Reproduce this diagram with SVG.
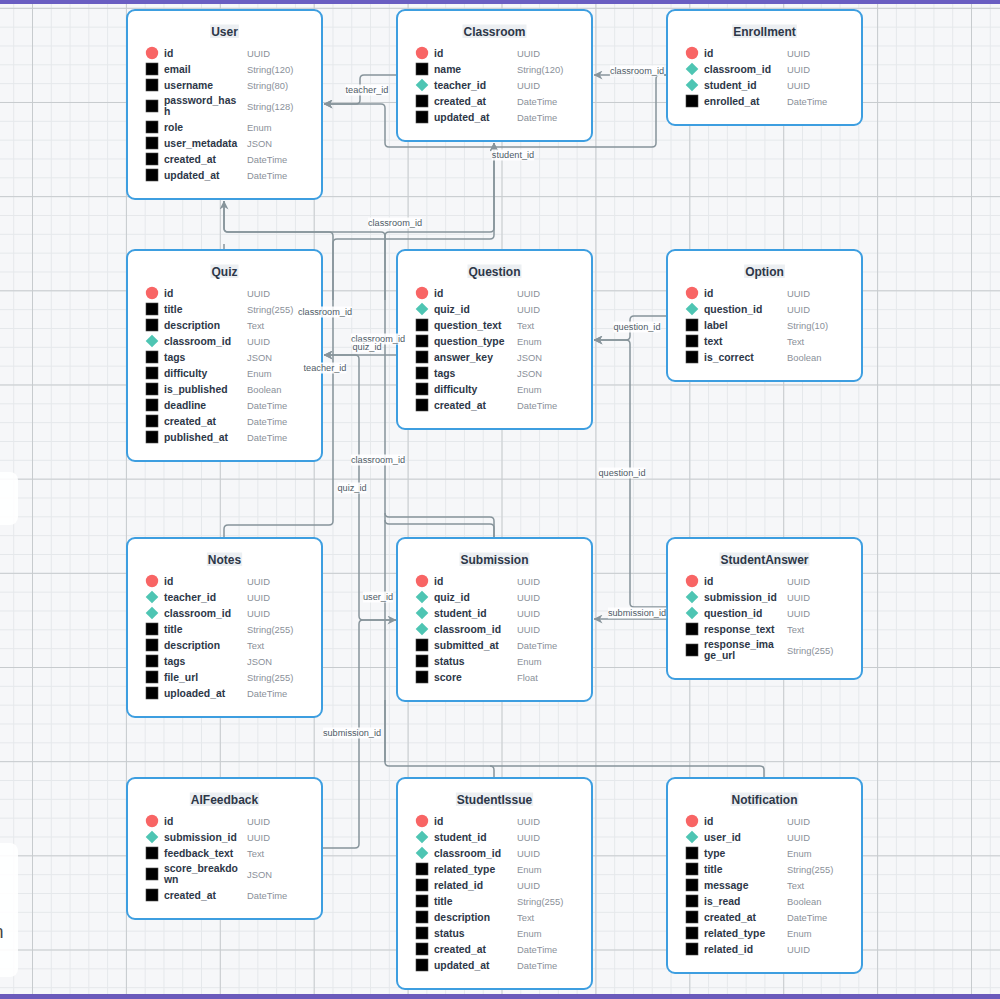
<svg xmlns="http://www.w3.org/2000/svg" xmlns:xlink="http://www.w3.org/1999/xlink" width="1000" height="999" viewBox="0 0 1000 999">
  <style>
    .box{fill:#fff;stroke:#3d9ee0;stroke-width:2}
    .hb{fill:#eceff2}
    .h{font:bold 12px "Liberation Sans",Arial,sans-serif;fill:#2d3748;text-anchor:middle}
    .n{font:bold 10.4px "Liberation Sans",Arial,sans-serif;fill:#2d3748}
    .t{font:9.4px "Liberation Sans",Arial,sans-serif;fill:#8a9099}
    .wire{fill:none;stroke:#87949b;stroke-width:1.5}
    .lb{fill:#fff;fill-opacity:.88}
    .lbl{font:9.2px "Liberation Sans",Arial,sans-serif;fill:#4f5b66;text-anchor:middle}
  </style>
  <defs>
    <pattern id="minor" patternUnits="userSpaceOnUse" x="32" y="7.8" width="18.78" height="18.834">
      <rect width="18.78" height="1" fill="#e5e8eb"/>
      <rect width="1" height="18.834" fill="#e5e8eb"/>
    </pattern>
    <pattern id="major" patternUnits="userSpaceOnUse" x="32" y="7.8" width="93.9" height="94.17">
      <rect width="93.9" height="1" fill="#c7cbce"/>
      <rect width="1" height="94.17" fill="#c7cbce"/>
    </pattern>
    <marker id="arr" viewBox="0 0 10 10" refX="9.5" refY="5" markerWidth="9" markerHeight="9" markerUnits="userSpaceOnUse" orient="auto">
      <path d="M0,0 L10,5 L0,10 L3,5 Z" fill="#87949b"/>
    </marker>
    <circle id="pk" r="6.2" fill="#f86565"/>
    <path id="fk" d="M0-6.3 6.3 0 0 6.3-6.3 0Z" fill="#4ec5b3"/>
    <rect id="col" x="-6" y="-6" width="12" height="12" fill="#000" stroke="#4a4a4a" stroke-width=".6"/>
  </defs>

  <!-- canvas -->
  <rect width="1000" height="999" fill="#f6f7f9"/>
  <rect width="1000" height="999" fill="url(#minor)"/>
  <rect width="1000" height="999" fill="url(#major)"/>
  <rect x="-12" y="472" width="30" height="53" rx="8" fill="#fff" fill-opacity=".9"/>
  <rect x="-12" y="843" width="30" height="134" rx="8" fill="#fff" fill-opacity=".9"/>
  <text x="-6.5" y="938" style="font:18px 'Liberation Sans',Arial,sans-serif;fill:#444">n</text>
  <rect x="0" y="0" width="1000" height="4" fill="#6a5ec2"/>
  <rect x="0" y="994" width="1000" height="5" fill="#6a5abb"/>

  <!-- relationships -->
  <g id="connectors">
    <path class="wire" d="M397,75 H364 Q360,75 360,79 V100 Q360,104 356,104 H324" marker-end="url(#arr)"/>
    <path class="wire" d="M667,75 H594" marker-end="url(#arr)"/>
    <path class="wire" d="M667,75 H660 Q656,75 656,79 V143 Q656,147 652,147 H389 Q385,147 385,143 V108 Q385,104 381,104 H324" marker-end="url(#arr)"/>
    <path class="wire" d="M224,538 V529 Q224,525 228,525 H329 Q333,525 333,521 V236 Q333,232 329,232 H228 Q224,232 224,228 V201" marker-end="url(#arr)"/>
    <path class="wire" d="M333,300 V243 Q333,239 337,239 H490 Q494,239 494,235 V143" marker-end="url(#arr)"/>
    <path class="wire" d="M385,762 V236 Q385,232 381,232 H228 Q224,232 224,228 V201"/>
    <path class="wire" d="M385,300 V236 Q385,232 389,232 H490 Q494,232 494,228 V143" marker-end="url(#arr)"/>
    <path class="wire" d="M224,250 V244"/>
    <path class="wire" d="M494,538 V521 Q494,517 490,517 H389 Q385,517 385,513"/>
    <path class="wire" d="M494,538 V528 Q494,524 490,524 H389 Q385,524 385,520"/>
    <path class="wire" d="M385,700 V762 Q385,766 389,766 H490 Q494,766 494,770 V778"/>
    <path class="wire" d="M490,766 H760 Q764,766 764,770 V778"/>
    <path class="wire" d="M397,355 H324" marker-end="url(#arr)"/>
    <path class="wire" d="M397,620 H363 Q359,620 359,616 V359 Q359,355 355,355 H324" marker-end="url(#arr)"/>
    <path class="wire" d="M322,848 H355 Q359,848 359,844 V624 Q359,620 363,620 H396" marker-end="url(#arr)"/>
    <path class="wire" d="M667,316 H634 Q630,316 630,320 V336 Q630,340 626,340 H594" marker-end="url(#arr)"/>
    <path class="wire" d="M667,607 H634 Q630,607 630,603 V344 Q630,340 626,340 H594" marker-end="url(#arr)"/>
    <path class="wire" d="M667,619 H594" marker-end="url(#arr)"/>
  </g>

  <!-- entities -->
  <g id="User" transform="translate(127,10)">
    <rect class="box" width="195" height="189" rx="8"/>
    <rect class="hb" x="83.15" y="14.5" width="28.7" height="13.5"/>
    <text class="h" x="97.5" y="25.5">User</text>
    <use href="#pk" x="25" y="43"/><text class="n" x="37" y="47">id</text><text class="t" x="120" y="46.5">UUID</text>
    <use href="#col" x="25" y="59"/><text class="n" x="37" y="63">email</text><text class="t" x="120" y="62.5">String(120)</text>
    <use href="#col" x="25" y="75"/><text class="n" x="37" y="79">username</text><text class="t" x="120" y="78.5">String(80)</text>
    <use href="#col" x="25" y="96"/><text class="n" x="37" y="94">password_has</text><text class="n" x="37" y="105">h</text><text class="t" x="120" y="99.5">String(128)</text>
    <use href="#col" x="25" y="117"/><text class="n" x="37" y="121">role</text><text class="t" x="120" y="120.5">Enum</text>
    <use href="#col" x="25" y="133"/><text class="n" x="37" y="137">user_metadata</text><text class="t" x="120" y="136.5">JSON</text>
    <use href="#col" x="25" y="149"/><text class="n" x="37" y="153">created_at</text><text class="t" x="120" y="152.5">DateTime</text>
    <use href="#col" x="25" y="165"/><text class="n" x="37" y="169">updated_at</text><text class="t" x="120" y="168.5">DateTime</text>
  </g>

  <g id="Classroom" transform="translate(397,10)">
    <rect class="box" width="195" height="131" rx="8"/>
    <rect class="hb" x="65.5" y="14.5" width="64" height="13.5"/>
    <text class="h" x="97.5" y="25.5">Classroom</text>
    <use href="#pk" x="25" y="43"/><text class="n" x="37" y="47">id</text><text class="t" x="120" y="46.5">UUID</text>
    <use href="#col" x="25" y="59"/><text class="n" x="37" y="63">name</text><text class="t" x="120" y="62.5">String(120)</text>
    <use href="#fk" x="25" y="75"/><text class="n" x="37" y="79">teacher_id</text><text class="t" x="120" y="78.5">UUID</text>
    <use href="#col" x="25" y="91"/><text class="n" x="37" y="95">created_at</text><text class="t" x="120" y="94.5">DateTime</text>
    <use href="#col" x="25" y="107"/><text class="n" x="37" y="111">updated_at</text><text class="t" x="120" y="110.5">DateTime</text>
  </g>

  <g id="Enrollment" transform="translate(667,10)">
    <rect class="box" width="195" height="115" rx="8"/>
    <rect class="hb" x="65.15" y="14.5" width="64.7" height="13.5"/>
    <text class="h" x="97.5" y="25.5">Enrollment</text>
    <use href="#pk" x="25" y="43"/><text class="n" x="37" y="47">id</text><text class="t" x="120" y="46.5">UUID</text>
    <use href="#fk" x="25" y="59"/><text class="n" x="37" y="63">classroom_id</text><text class="t" x="120" y="62.5">UUID</text>
    <use href="#fk" x="25" y="75"/><text class="n" x="37" y="79">student_id</text><text class="t" x="120" y="78.5">UUID</text>
    <use href="#col" x="25" y="91"/><text class="n" x="37" y="95">enrolled_at</text><text class="t" x="120" y="94.5">DateTime</text>
  </g>

  <g id="Quiz" transform="translate(127,250)">
    <rect class="box" width="195" height="211" rx="8"/>
    <rect class="hb" x="83.5" y="14.5" width="28" height="13.5"/>
    <text class="h" x="97.5" y="25.5">Quiz</text>
    <use href="#pk" x="25" y="43"/><text class="n" x="37" y="47">id</text><text class="t" x="120" y="46.5">UUID</text>
    <use href="#col" x="25" y="59"/><text class="n" x="37" y="63">title</text><text class="t" x="120" y="62.5">String(255)</text>
    <use href="#col" x="25" y="75"/><text class="n" x="37" y="79">description</text><text class="t" x="120" y="78.5">Text</text>
    <use href="#fk" x="25" y="91"/><text class="n" x="37" y="95">classroom_id</text><text class="t" x="120" y="94.5">UUID</text>
    <use href="#col" x="25" y="107"/><text class="n" x="37" y="111">tags</text><text class="t" x="120" y="110.5">JSON</text>
    <use href="#col" x="25" y="123"/><text class="n" x="37" y="127">difficulty</text><text class="t" x="120" y="126.5">Enum</text>
    <use href="#col" x="25" y="139"/><text class="n" x="37" y="143">is_published</text><text class="t" x="120" y="142.5">Boolean</text>
    <use href="#col" x="25" y="155"/><text class="n" x="37" y="159">deadline</text><text class="t" x="120" y="158.5">DateTime</text>
    <use href="#col" x="25" y="171"/><text class="n" x="37" y="175">created_at</text><text class="t" x="120" y="174.5">DateTime</text>
    <use href="#col" x="25" y="187"/><text class="n" x="37" y="191">published_at</text><text class="t" x="120" y="190.5">DateTime</text>
  </g>

  <g id="Question" transform="translate(397,250)">
    <rect class="box" width="195" height="179" rx="8"/>
    <rect class="hb" x="70.5" y="14.5" width="54" height="13.5"/>
    <text class="h" x="97.5" y="25.5">Question</text>
    <use href="#pk" x="25" y="43"/><text class="n" x="37" y="47">id</text><text class="t" x="120" y="46.5">UUID</text>
    <use href="#fk" x="25" y="59"/><text class="n" x="37" y="63">quiz_id</text><text class="t" x="120" y="62.5">UUID</text>
    <use href="#col" x="25" y="75"/><text class="n" x="37" y="79">question_text</text><text class="t" x="120" y="78.5">Text</text>
    <use href="#col" x="25" y="91"/><text class="n" x="37" y="95">question_type</text><text class="t" x="120" y="94.5">Enum</text>
    <use href="#col" x="25" y="107"/><text class="n" x="37" y="111">answer_key</text><text class="t" x="120" y="110.5">JSON</text>
    <use href="#col" x="25" y="123"/><text class="n" x="37" y="127">tags</text><text class="t" x="120" y="126.5">JSON</text>
    <use href="#col" x="25" y="139"/><text class="n" x="37" y="143">difficulty</text><text class="t" x="120" y="142.5">Enum</text>
    <use href="#col" x="25" y="155"/><text class="n" x="37" y="159">created_at</text><text class="t" x="120" y="158.5">DateTime</text>
  </g>

  <g id="Option" transform="translate(667,250)">
    <rect class="box" width="195" height="131" rx="8"/>
    <rect class="hb" x="77.15" y="14.5" width="40.7" height="13.5"/>
    <text class="h" x="97.5" y="25.5">Option</text>
    <use href="#pk" x="25" y="43"/><text class="n" x="37" y="47">id</text><text class="t" x="120" y="46.5">UUID</text>
    <use href="#fk" x="25" y="59"/><text class="n" x="37" y="63">question_id</text><text class="t" x="120" y="62.5">UUID</text>
    <use href="#col" x="25" y="75"/><text class="n" x="37" y="79">label</text><text class="t" x="120" y="78.5">String(10)</text>
    <use href="#col" x="25" y="91"/><text class="n" x="37" y="95">text</text><text class="t" x="120" y="94.5">Text</text>
    <use href="#col" x="25" y="107"/><text class="n" x="37" y="111">is_correct</text><text class="t" x="120" y="110.5">Boolean</text>
  </g>

  <g id="Notes" transform="translate(127,538)">
    <rect class="box" width="195" height="179" rx="8"/>
    <rect class="hb" x="79.85" y="14.5" width="35.3" height="13.5"/>
    <text class="h" x="97.5" y="25.5">Notes</text>
    <use href="#pk" x="25" y="43"/><text class="n" x="37" y="47">id</text><text class="t" x="120" y="46.5">UUID</text>
    <use href="#fk" x="25" y="59"/><text class="n" x="37" y="63">teacher_id</text><text class="t" x="120" y="62.5">UUID</text>
    <use href="#fk" x="25" y="75"/><text class="n" x="37" y="79">classroom_id</text><text class="t" x="120" y="78.5">UUID</text>
    <use href="#col" x="25" y="91"/><text class="n" x="37" y="95">title</text><text class="t" x="120" y="94.5">String(255)</text>
    <use href="#col" x="25" y="107"/><text class="n" x="37" y="111">description</text><text class="t" x="120" y="110.5">Text</text>
    <use href="#col" x="25" y="123"/><text class="n" x="37" y="127">tags</text><text class="t" x="120" y="126.5">JSON</text>
    <use href="#col" x="25" y="139"/><text class="n" x="37" y="143">file_url</text><text class="t" x="120" y="142.5">String(255)</text>
    <use href="#col" x="25" y="155"/><text class="n" x="37" y="159">uploaded_at</text><text class="t" x="120" y="158.5">DateTime</text>
  </g>

  <g id="Submission" transform="translate(397,538)">
    <rect class="box" width="195" height="163" rx="8"/>
    <rect class="hb" x="62.5" y="14.5" width="70" height="13.5"/>
    <text class="h" x="97.5" y="25.5">Submission</text>
    <use href="#pk" x="25" y="43"/><text class="n" x="37" y="47">id</text><text class="t" x="120" y="46.5">UUID</text>
    <use href="#fk" x="25" y="59"/><text class="n" x="37" y="63">quiz_id</text><text class="t" x="120" y="62.5">UUID</text>
    <use href="#fk" x="25" y="75"/><text class="n" x="37" y="79">student_id</text><text class="t" x="120" y="78.5">UUID</text>
    <use href="#fk" x="25" y="91"/><text class="n" x="37" y="95">classroom_id</text><text class="t" x="120" y="94.5">UUID</text>
    <use href="#col" x="25" y="107"/><text class="n" x="37" y="111">submitted_at</text><text class="t" x="120" y="110.5">DateTime</text>
    <use href="#col" x="25" y="123"/><text class="n" x="37" y="127">status</text><text class="t" x="120" y="126.5">Enum</text>
    <use href="#col" x="25" y="139"/><text class="n" x="37" y="143">score</text><text class="t" x="120" y="142.5">Float</text>
  </g>

  <g id="StudentAnswer" transform="translate(667,538)">
    <rect class="box" width="195" height="141" rx="8"/>
    <rect class="hb" x="52.5" y="14.5" width="90" height="13.5"/>
    <text class="h" x="97.5" y="25.5">StudentAnswer</text>
    <use href="#pk" x="25" y="43"/><text class="n" x="37" y="47">id</text><text class="t" x="120" y="46.5">UUID</text>
    <use href="#fk" x="25" y="59"/><text class="n" x="37" y="63">submission_id</text><text class="t" x="120" y="62.5">UUID</text>
    <use href="#fk" x="25" y="75"/><text class="n" x="37" y="79">question_id</text><text class="t" x="120" y="78.5">UUID</text>
    <use href="#col" x="25" y="91"/><text class="n" x="37" y="95">response_text</text><text class="t" x="120" y="94.5">Text</text>
    <use href="#col" x="25" y="112"/><text class="n" x="37" y="110">response_ima</text><text class="n" x="37" y="121">ge_url</text><text class="t" x="120" y="115.5">String(255)</text>
  </g>

  <g id="AIFeedback" transform="translate(127,778)">
    <rect class="box" width="195" height="141" rx="8"/>
    <rect class="hb" x="62.8" y="14.5" width="69.4" height="13.5"/>
    <text class="h" x="97.5" y="25.5">AIFeedback</text>
    <use href="#pk" x="25" y="43"/><text class="n" x="37" y="47">id</text><text class="t" x="120" y="46.5">UUID</text>
    <use href="#fk" x="25" y="59"/><text class="n" x="37" y="63">submission_id</text><text class="t" x="120" y="62.5">UUID</text>
    <use href="#col" x="25" y="75"/><text class="n" x="37" y="79">feedback_text</text><text class="t" x="120" y="78.5">Text</text>
    <use href="#col" x="25" y="96"/><text class="n" x="37" y="94">score_breakdo</text><text class="n" x="37" y="105">wn</text><text class="t" x="120" y="99.5">JSON</text>
    <use href="#col" x="25" y="117"/><text class="n" x="37" y="121">created_at</text><text class="t" x="120" y="120.5">DateTime</text>
  </g>

  <g id="StudentIssue" transform="translate(397,778)">
    <rect class="box" width="195" height="211" rx="8"/>
    <rect class="hb" x="58.85" y="14.5" width="77.3" height="13.5"/>
    <text class="h" x="97.5" y="25.5">StudentIssue</text>
    <use href="#pk" x="25" y="43"/><text class="n" x="37" y="47">id</text><text class="t" x="120" y="46.5">UUID</text>
    <use href="#fk" x="25" y="59"/><text class="n" x="37" y="63">student_id</text><text class="t" x="120" y="62.5">UUID</text>
    <use href="#fk" x="25" y="75"/><text class="n" x="37" y="79">classroom_id</text><text class="t" x="120" y="78.5">UUID</text>
    <use href="#col" x="25" y="91"/><text class="n" x="37" y="95">related_type</text><text class="t" x="120" y="94.5">Enum</text>
    <use href="#col" x="25" y="107"/><text class="n" x="37" y="111">related_id</text><text class="t" x="120" y="110.5">UUID</text>
    <use href="#col" x="25" y="123"/><text class="n" x="37" y="127">title</text><text class="t" x="120" y="126.5">String(255)</text>
    <use href="#col" x="25" y="139"/><text class="n" x="37" y="143">description</text><text class="t" x="120" y="142.5">Text</text>
    <use href="#col" x="25" y="155"/><text class="n" x="37" y="159">status</text><text class="t" x="120" y="158.5">Enum</text>
    <use href="#col" x="25" y="171"/><text class="n" x="37" y="175">created_at</text><text class="t" x="120" y="174.5">DateTime</text>
    <use href="#col" x="25" y="187"/><text class="n" x="37" y="191">updated_at</text><text class="t" x="120" y="190.5">DateTime</text>
  </g>

  <g id="Notification" transform="translate(667,778)">
    <rect class="box" width="195" height="195" rx="8"/>
    <rect class="hb" x="63.5" y="14.5" width="68" height="13.5"/>
    <text class="h" x="97.5" y="25.5">Notification</text>
    <use href="#pk" x="25" y="43"/><text class="n" x="37" y="47">id</text><text class="t" x="120" y="46.5">UUID</text>
    <use href="#fk" x="25" y="59"/><text class="n" x="37" y="63">user_id</text><text class="t" x="120" y="62.5">UUID</text>
    <use href="#col" x="25" y="75"/><text class="n" x="37" y="79">type</text><text class="t" x="120" y="78.5">Enum</text>
    <use href="#col" x="25" y="91"/><text class="n" x="37" y="95">title</text><text class="t" x="120" y="94.5">String(255)</text>
    <use href="#col" x="25" y="107"/><text class="n" x="37" y="111">message</text><text class="t" x="120" y="110.5">Text</text>
    <use href="#col" x="25" y="123"/><text class="n" x="37" y="127">is_read</text><text class="t" x="120" y="126.5">Boolean</text>
    <use href="#col" x="25" y="139"/><text class="n" x="37" y="143">created_at</text><text class="t" x="120" y="142.5">DateTime</text>
    <use href="#col" x="25" y="155"/><text class="n" x="37" y="159">related_type</text><text class="t" x="120" y="158.5">Enum</text>
    <use href="#col" x="25" y="171"/><text class="n" x="37" y="175">related_id</text><text class="t" x="120" y="174.5">UUID</text>
  </g>

  <!-- relationship labels -->
  <g id="connector-labels">
    <rect class="lb" x="345.5" y="84.5" width="43" height="11"/><text class="lbl" x="367" y="93.3">teacher_id</text>
    <rect class="lb" x="609.9" y="65.5" width="54.2" height="11"/><text class="lbl" x="637" y="74.3">classroom_id</text>
    <rect class="lb" x="491.8" y="149.5" width="42.4" height="11"/><text class="lbl" x="513" y="158.3">student_id</text>
    <rect class="lb" x="367.9" y="217.5" width="54.2" height="11"/><text class="lbl" x="395" y="226.3">classroom_id</text>
    <rect class="lb" x="297.9" y="306.5" width="54.2" height="11"/><text class="lbl" x="325" y="315.3">classroom_id</text>
    <rect class="lb" x="350.9" y="333.5" width="54.2" height="11"/><text class="lbl" x="378" y="342.3">classroom_id</text>
    <rect class="lb" x="352.5" y="341.5" width="29.1" height="11"/><text class="lbl" x="367" y="350.3">quiz_id</text>
    <rect class="lb" x="303.5" y="362.5" width="43" height="11"/><text class="lbl" x="325" y="371.3">teacher_id</text>
    <rect class="lb" x="350.9" y="454.5" width="54.2" height="11"/><text class="lbl" x="378" y="463.3">classroom_id</text>
    <rect class="lb" x="337.5" y="482.5" width="29.1" height="11"/><text class="lbl" x="352" y="491.3">quiz_id</text>
    <rect class="lb" x="362.9" y="591.5" width="30.2" height="11"/><text class="lbl" x="378" y="600.3">user_id</text>
    <rect class="lb" x="322.9" y="727.5" width="58.3" height="11"/><text class="lbl" x="352" y="736.3">submission_id</text>
    <rect class="lb" x="613.5" y="321.5" width="47" height="11"/><text class="lbl" x="637" y="330.3">question_id</text>
    <rect class="lb" x="598.5" y="467.5" width="47" height="11"/><text class="lbl" x="622" y="476.3">question_id</text>
    <rect class="lb" x="607.9" y="607.5" width="58.3" height="11"/><text class="lbl" x="637" y="616.3">submission_id</text>
  </g>
</svg>
